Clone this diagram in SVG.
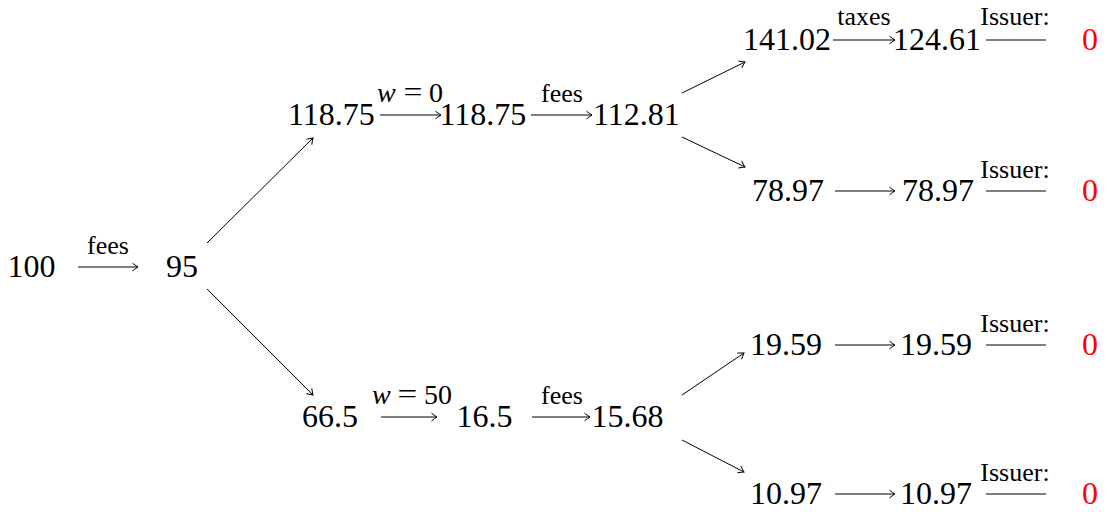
<svg xmlns="http://www.w3.org/2000/svg" width="1107" height="512" viewBox="0 0 1107 512">
<style>
.n{font-family:"Liberation Serif","Times New Roman",serif;font-size:32px;fill:#000}
.r{font-family:"Liberation Serif","Times New Roman",serif;font-size:32px;fill:#ff0000}
.l{font-family:"Liberation Serif","Times New Roman",serif;font-size:26px;fill:#000;text-anchor:middle}
.m{font-family:"Liberation Serif","Times New Roman",serif;font-size:28px;fill:#000}
.a{stroke:#000;stroke-width:1.2;fill:none;marker-end:url(#ah)}
.d{stroke:#000;stroke-width:1;fill:none;marker-end:url(#ah)}
.p{stroke:#000;stroke-width:1.2;fill:none}
</style>
<defs>
<marker id="ah" viewBox="-7 -5 8 10" markerWidth="8" markerHeight="10" refX="0" refY="0" orient="auto" markerUnits="userSpaceOnUse">
<path d="M-5.5,-3.8 Q-1.5,-0.8 0,0 Q-1.5,0.8 -5.5,3.8" fill="none" stroke="#000" stroke-width="1"/>
</marker>
</defs>
<rect width="1107" height="512" fill="#fff"/>
<g id="connectors">
<path class="a" d="M78,267 H138"/>
<text class="l" x="108" y="254">fees</text>
<path class="d" d="M207,243 L313,138"/>
<path class="d" d="M207,289 L313,395"/>
<path class="a" d="M380,115 H441"/>
<text class="m" x="377" y="102" font-style="italic">w</text>
<text class="m" transform="translate(403.5,101) scale(1.2,1)">=</text>
<text class="m" x="429" y="102">0</text>
<path class="a" d="M531,115 H592"/>
<text class="l" x="562" y="102">fees</text>
<path class="d" d="M682,93 L745,62"/>
<path class="d" d="M682,137 L745,167"/>
<path class="a" d="M833,40 H895"/>
<text class="l" x="864" y="25">taxes</text>
<path class="p" d="M986,40 H1046"/>
<text class="l" x="1015" y="25">Issuer:</text>
<path class="a" d="M835,191 H895"/>
<path class="p" d="M986,191 H1046"/>
<text class="l" x="1015" y="178">Issuer:</text>
<path class="a" d="M381,417 H437"/>
<text class="m" x="372" y="404" font-style="italic">w</text>
<text class="m" transform="translate(397.5,403) scale(1.25,1)">=</text>
<text class="m" x="424" y="404">50</text>
<path class="a" d="M532,417 H590"/>
<text class="l" x="562" y="404">fees</text>
<path class="d" d="M682,395 L744,353"/>
<path class="d" d="M682,440 L744,472"/>
<path class="a" d="M835,345 H895"/>
<path class="p" d="M986,345 H1046"/>
<text class="l" x="1015" y="332">Issuer:</text>
<path class="a" d="M835,494 H895"/>
<path class="p" d="M986,494 H1046"/>
<text class="l" x="1015" y="481">Issuer:</text>
</g>
<g id="n100"><text class="n" x="7.5" y="277">100</text></g>
<g id="n95"><text class="n" x="166" y="277">95</text></g>
<g id="n118a"><text class="n" x="288" y="125">118.75</text></g>
<g id="n118b"><text class="n" x="439.5" y="125">118.75</text></g>
<g id="n112"><text class="n" x="593" y="125">112.81</text></g>
<g id="n141"><text class="n" x="743" y="50">141.02</text></g>
<g id="n124"><text class="n" x="893" y="50">124.61</text></g>
<g id="z1"><text class="r" x="1082" y="50">0</text></g>
<g id="n78a"><text class="n" x="752" y="201">78.97</text></g>
<g id="n78b"><text class="n" x="902" y="201">78.97</text></g>
<g id="z2"><text class="r" x="1082" y="201">0</text></g>
<g id="n66"><text class="n" x="302" y="427">66.5</text></g>
<g id="n16"><text class="n" x="456.5" y="427">16.5</text></g>
<g id="n15"><text class="n" x="591.5" y="427">15.68</text></g>
<g id="n19a"><text class="n" x="750" y="355">19.59</text></g>
<g id="n19b"><text class="n" x="900" y="355">19.59</text></g>
<g id="z3"><text class="r" x="1082" y="355">0</text></g>
<g id="n10a"><text class="n" x="750" y="504">10.97</text></g>
<g id="n10b"><text class="n" x="900" y="504">10.97</text></g>
<g id="z4"><text class="r" x="1082" y="504">0</text></g>
</svg>
